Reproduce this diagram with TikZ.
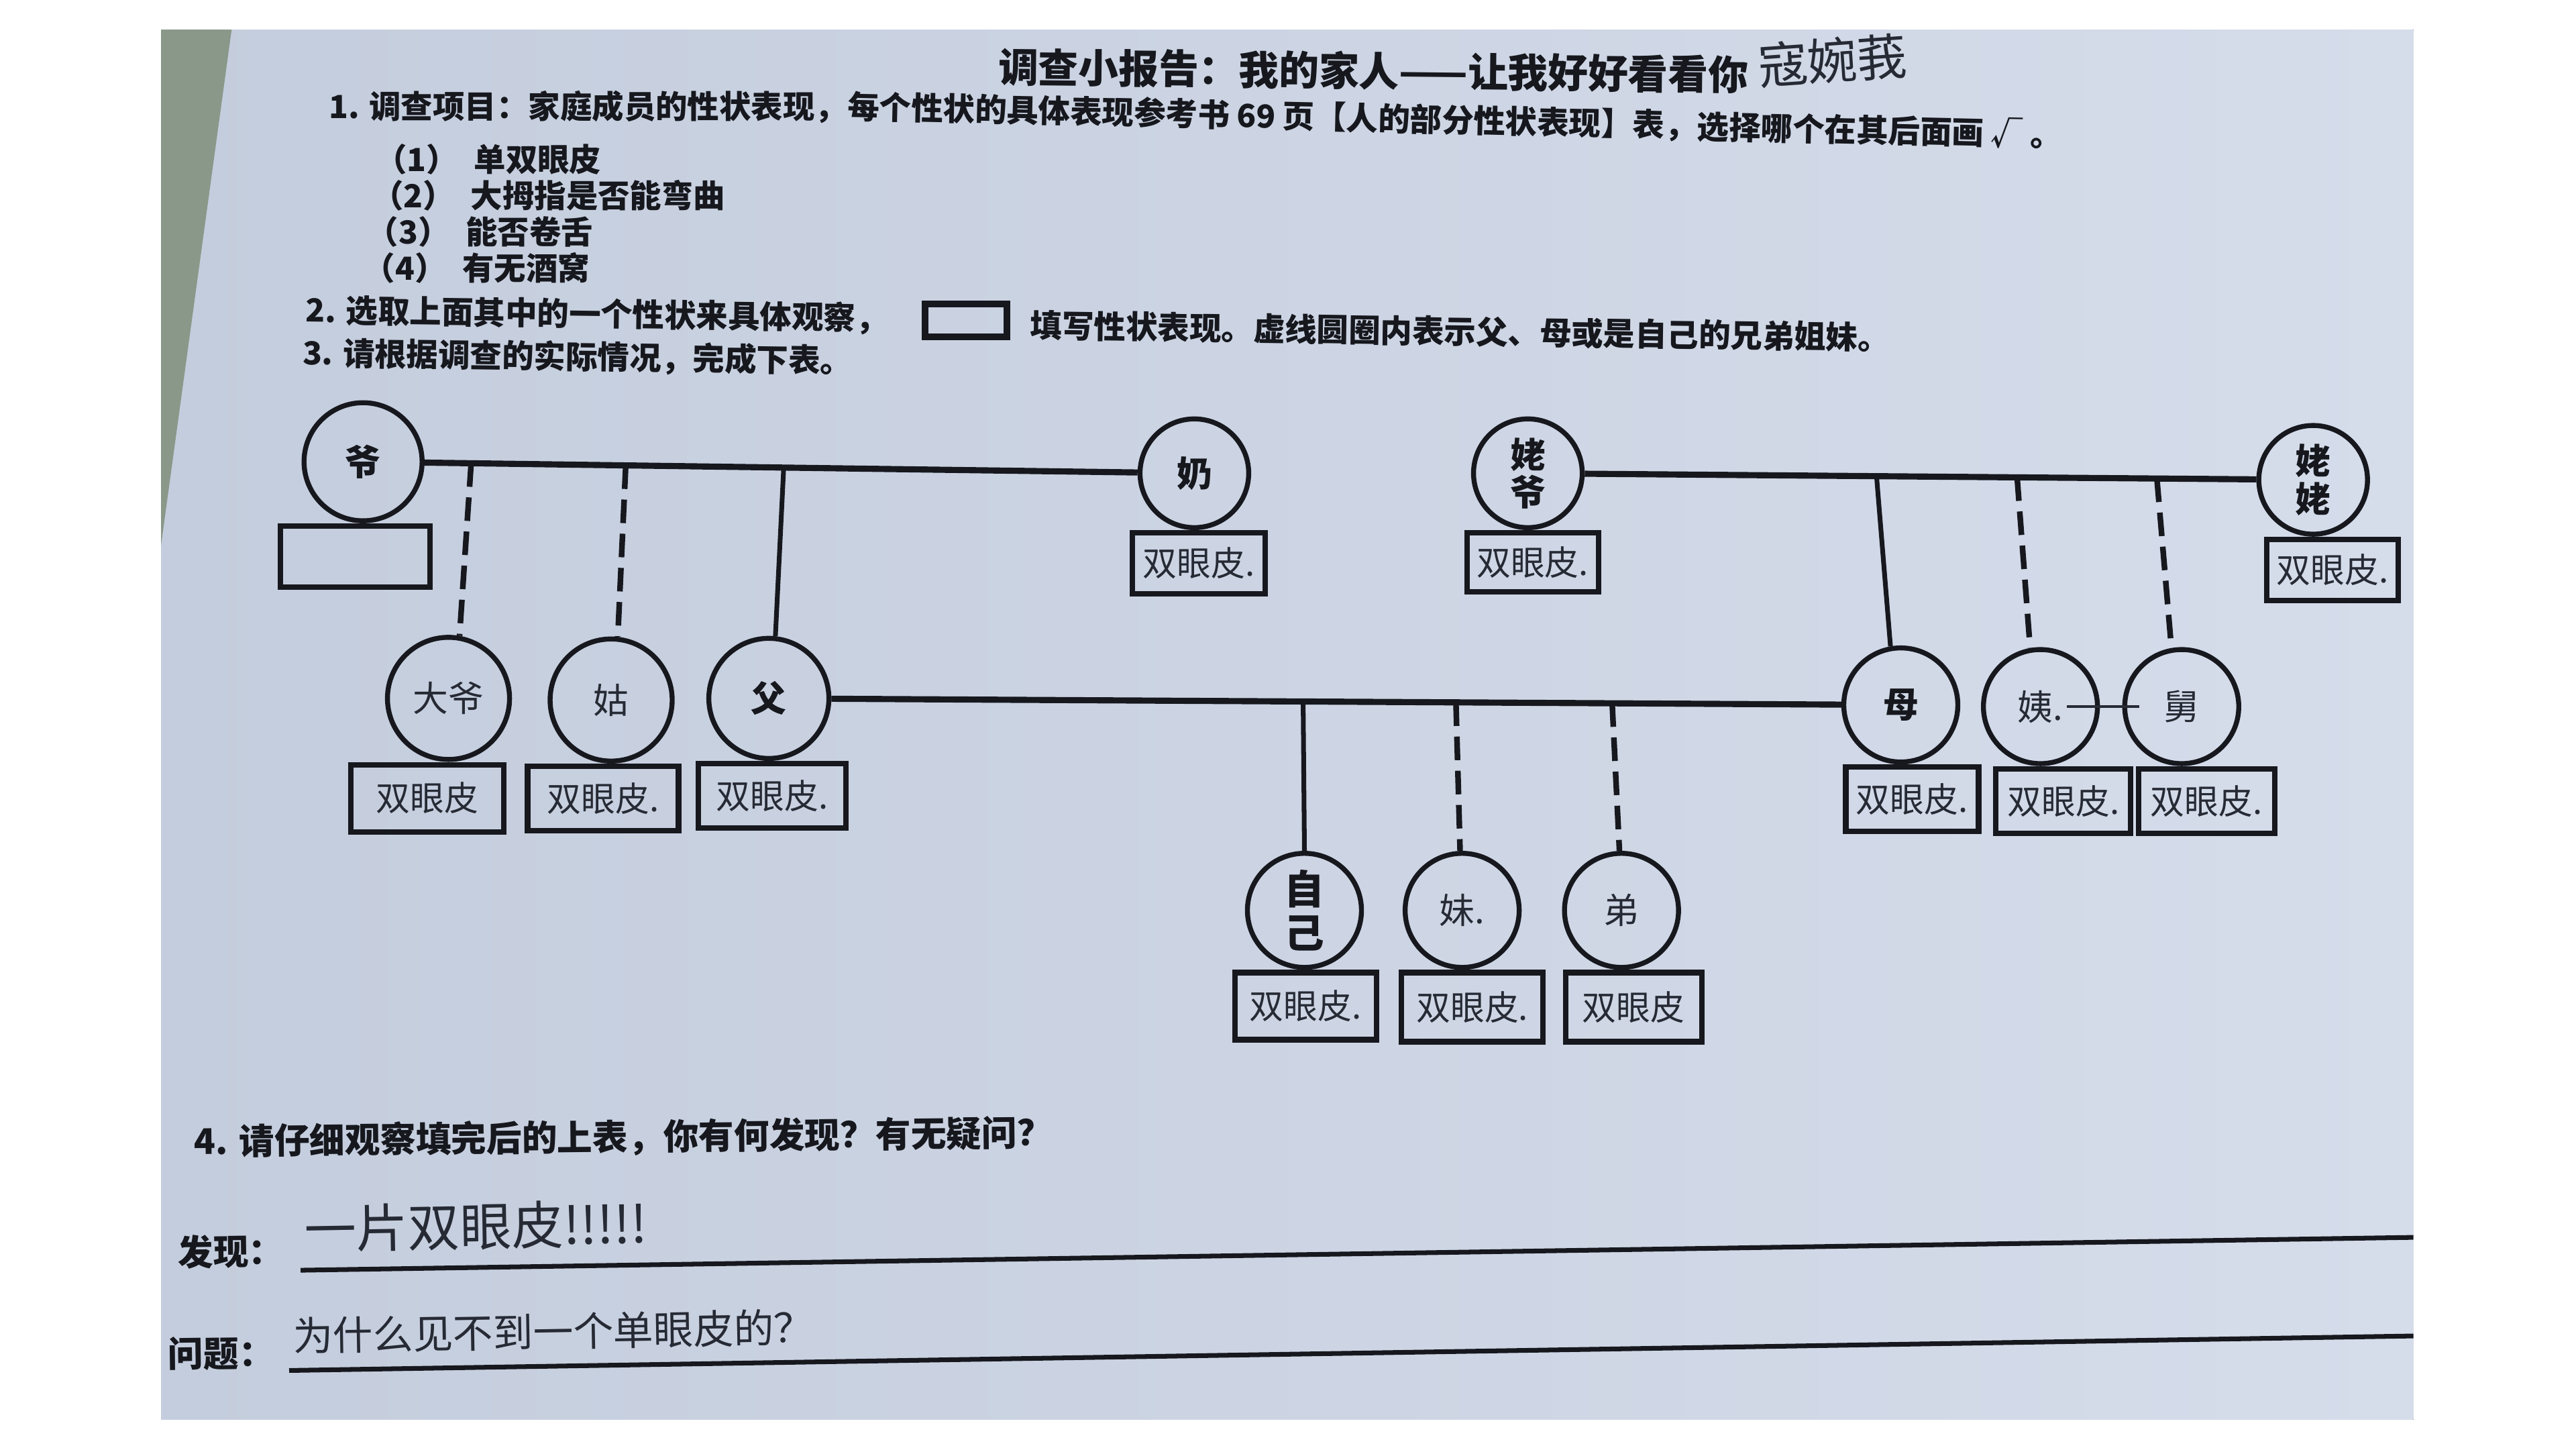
\documentclass[tikz,border=0pt]{standalone}
\usepackage{fontspec}
\setmainfont{Noto Sans CJK SC}
\newfontfamily\hand{Noto Sans CJK SC}
\usetikzlibrary{positioning,calc}
\definecolor{ink}{RGB}{22,24,30}
\definecolor{pen}{RGB}{38,42,52}
\definecolor{paperL}{RGB}{196,205,221}
\definecolor{paperR}{RGB}{213,220,234}
\definecolor{cloth}{RGB}{138,152,138}
\tikzset{
  person/.style={circle, draw=ink, line width=2.1pt, minimum size=17mm, inner sep=0pt,
    align=center, text=ink, font=\bfseries\fontsize{15}{16}\selectfont},
  handp/.style={person, text=pen, font=\hand\fontsize{15}{16}\selectfont},
  trait/.style={draw=ink, line width=2.3pt, minimum width=20mm, minimum height=9.6mm,
    inner sep=0pt, text=pen, font=\hand\fontsize{14.5}{15}\selectfont},
  tie/.style={draw=ink, line width=2.6pt},
  kin/.style={draw=ink, line width=2pt},
  sib/.style={draw=ink, line width=2.4pt, dash pattern=on 10pt off 4.5pt},
  txt/.style={anchor=west, inner sep=0pt, text=ink, font=\bfseries\fontsize{13.5}{14}\selectfont},
  htxt/.style={anchor=west, inner sep=0pt, text=pen},
  rule/.style={draw=ink, line width=2pt}
}
\begin{document}
\begin{tikzpicture}[x=0.2449mm, y=-0.2449mm]
\useasboundingbox (0,0) rectangle (1568,882);
\fill[white] (0,0) rectangle (1568,882);
% paper and the cloth under it
\fill[left color=paperL, right color=paperR] (98,18) rectangle (1469,864);
\fill[cloth] (98,18) -- (141,18) -- (98,332) -- cycle;

% heading
\node[inner sep=0pt, text=ink, font=\bfseries\fontsize{17}{18}\selectfont, rotate=-0.6] (ttl) at (836,43) {调查小报告：我的家人——让我好好看看你};
\node[htxt, font=\hand\fontsize{21}{22}\selectfont, rotate=4] (nm) at (1070,40) {寇婉莪};
\node[txt] (l1a) at (200,65) {1. 调查项目：家庭成员的性状表现，};
\node[txt, rotate=-1.3, right=0pt of l1a] (l1b) {每个性状的具体表现参考书 69 页【人的部分性状表现】表，};
\node[txt, rotate=-1.3, right=0pt of l1b] (l1c) {选择哪个在其后面画 √ 。};
\node[txt] (it1) at (228,97) {（1）\hspace{0.5em}单双眼皮};
\node[txt] (it2) at (226,119) {（2）\hspace{0.5em}大拇指是否能弯曲};
\node[txt] (it3) at (223,141) {（3）\hspace{0.5em}能否卷舌};
\node[txt] (it4) at (221,163) {（4）\hspace{0.5em}有无酒窝};
\node[txt, rotate=-0.8] (l2) at (186,189) {2. 选取上面其中的一个性状来具体观察，};
\node[draw=ink, line width=2.6pt, minimum width=12.2mm, minimum height=4.9mm, inner sep=0pt] (bx) at (588,195) {};
\node[txt, rotate=-0.8] (l2b) at (627,198) {填写性状表现。虚线圆圈内表示父、母或是自己的兄弟姐妹。};
\node[txt, rotate=-0.8] (l3) at (184,215) {3. 请根据调查的实际情况，完成下表。};

% family tree
\node[person, minimum size=17.6mm] (ye) at (221,281) {爷};
\node[person, minimum size=16.2mm] (nai) at (727,288) {奶};
\node[person, minimum size=16.2mm] (lye) at (930,288) {姥\\爷};
\node[person, minimum size=16.2mm] (lla) at (1408,292) {姥\\姥};
\node[handp, minimum size=18.2mm] (dye) at (273,425) {大爷};
\node[handp, minimum size=18.2mm] (gu) at (372,426) {姑};
\node[person, minimum size=17.9mm] (fu) at (468,425) {父};
\node[person] (mu) at (1157,429) {母};
\node[handp] (yi) at (1242,430) {姨.};
\node[handp] (jiu) at (1328,430) {舅};
\node[person, font=\bfseries\fontsize{17}{18.5}\selectfont] (zj) at (794,554) {自\\己};
\node[handp] (mei) at (890,554) {妹.};
\node[handp] (di) at (987,554) {弟};

\node[trait, below=0pt of ye, xshift=-1.2mm, minimum width=22.3mm, minimum height=9.1mm] (yeB) {};
\node[trait, below=0pt of nai, xshift=0.7mm, minimum width=19.8mm, minimum height=9.1mm] (naiB) {双眼皮.};
\node[trait, below=0pt of lye, xshift=0.7mm, minimum width=19.6mm, minimum height=8.8mm] (lyeB) {双眼皮.};
\node[trait, below=0pt of lla, xshift=2.9mm, minimum width=19.6mm, minimum height=9.1mm] (llaB) {双眼皮.};
\node[trait, below=0pt of dye, xshift=-3.2mm, minimum width=22.8mm, minimum height=10mm] (dyeB) {双眼皮};
\node[trait, below=0pt of gu, xshift=-1.2mm, minimum width=22.5mm] (guB) {双眼皮.};
\node[trait, below=0pt of fu, xshift=0.5mm, minimum width=22mm] (fuB) {双眼皮.};
\node[trait, below=0pt of mu, xshift=1.7mm, minimum width=19.8mm] (muB) {双眼皮.};
\node[trait, below=0pt of yi, xshift=3.4mm, minimum width=20.1mm] (yiB) {双眼皮.};
\node[trait, below=0pt of jiu, xshift=3.7mm, minimum width=20.3mm] (jiuB) {双眼皮.};
\node[trait, below=0pt of zj, xshift=0.2mm, minimum width=21.1mm, minimum height=10mm] (zjB) {双眼皮.};
\node[trait, below=0pt of mei, xshift=1.5mm, minimum width=21.1mm, minimum height=10.3mm] (meiB) {双眼皮.};
\node[trait, below=0pt of di, xshift=1.8mm, minimum width=20.3mm, minimum height=10.3mm] (diB) {双眼皮};

\draw[tie] (ye) -- (nai);
\draw[tie] (lye) -- (lla);
\draw[tie] (fu) -- (mu);

\coordinate (a1) at ($(ye)!0.130!(nai)$);
\coordinate (a2) at ($(ye)!0.316!(nai)$);
\coordinate (a3) at ($(ye)!0.506!(nai)$);
\coordinate (b1) at ($(fu)!0.472!(mu)$);
\coordinate (b2) at ($(fu)!0.607!(mu)$);
\coordinate (b3) at ($(fu)!0.745!(mu)$);
\coordinate (c1) at ($(lye)!0.444!(lla)$);
\coordinate (c2) at ($(lye)!0.623!(lla)$);
\coordinate (c3) at ($(lye)!0.801!(lla)$);

\draw[sib] (a1) -- (dye.80);
\draw[sib] (a2) -- (gu.84);
\draw[kin] (a3) -- (fu.84);
\draw[kin] (b1) -- (zj.north);
\draw[sib] (b2) -- (mei.92);
\draw[sib] (b3) -- (di.92);
\draw[kin] (c1) -- (mu.100);
\draw[sib] (c2) -- (yi.100);
\draw[sib] (c3) -- (jiu.100);
\draw[pen, line width=1.3pt] ($(yi)+(16,0)$) -- ($(jiu)+(-26,0)$);

% question 4
\node[txt, font=\bfseries\fontsize{15}{16}\selectfont, rotate=0.6] (q4) at (118,695) {4. 请仔细观察填完后的上表，你有何发现？有无疑问？};
\node[txt, font=\bfseries\fontsize{15}{16}\selectfont, rotate=0.8] (fx) at (108,762) {发现：};
\node[htxt, font=\hand\fontsize{22}{23}\selectfont, rotate=1] (fxA) at (185,748) {一片双眼皮!!!!!};
\node[txt, font=\bfseries\fontsize{15}{16}\selectfont, rotate=0.8] (wt) at (102,824) {问题：};
\node[htxt, font=\hand\fontsize{17}{18}\selectfont, rotate=1] (wtA) at (178,813) {为什么见不到一个单眼皮的？};
\coordinate (f1) at (183,773);
\coordinate (f2) at (1469,753);
\coordinate (g1) at (176,834);
\coordinate (g2) at (1469,813);
\draw[rule] (f1) -- (f2);
\draw[rule] (g1) -- (g2);
\end{tikzpicture}
\end{document}
